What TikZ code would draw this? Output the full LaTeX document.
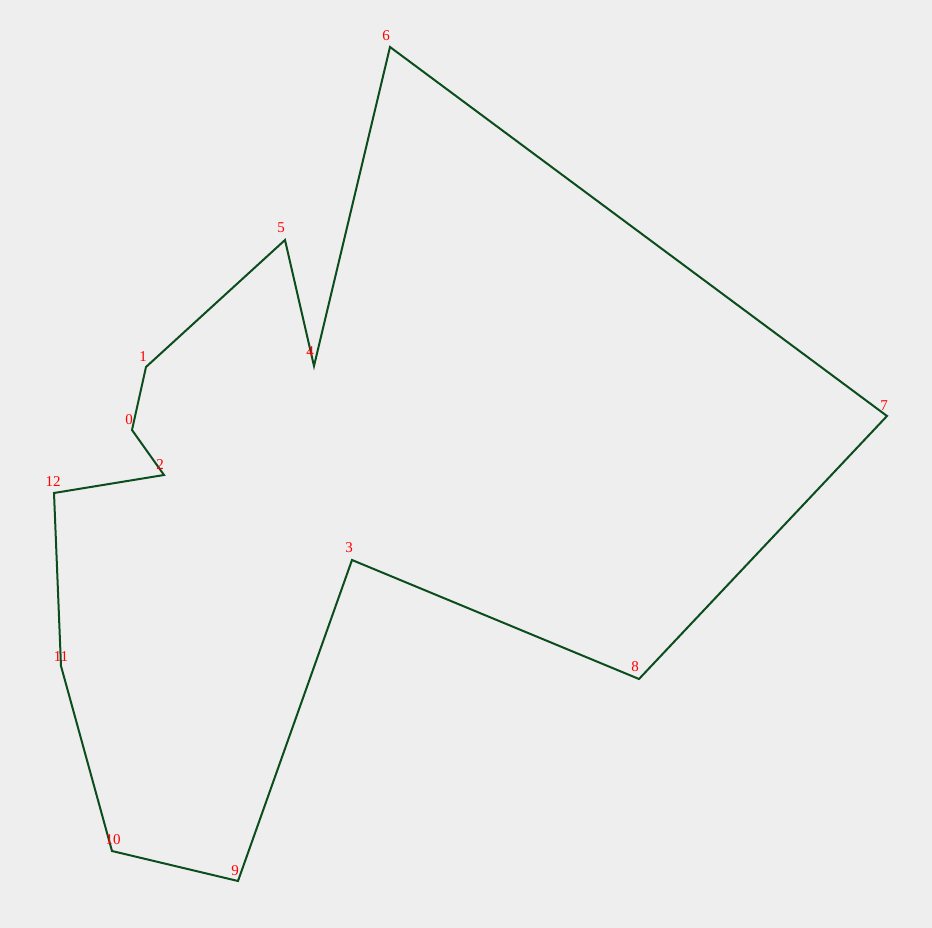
\documentclass[tikz,border=0pt]{standalone}
\usepackage{fontspec}
\setmainfont{Liberation Serif}
\definecolor{bg}{HTML}{EEEEEE}
\definecolor{edge}{HTML}{0B4D1C}
\definecolor{lbl}{HTML}{FF0000}
\begin{document}
\begin{tikzpicture}[x=1pt,y=-1pt,
  vtx/.style={inner sep=0pt,minimum size=0pt},
  lab/.style={text=lbl,font=\fontsize{15}{15}\selectfont,inner sep=0pt},
  poly/.style={draw=edge,line width=2pt,line join=miter}]
\fill[bg] (0,0) rectangle (932,928);
\useasboundingbox (0,0) rectangle (932,928);
\coordinate (v0) at (132,430);
\coordinate (v1) at (146,367);
\coordinate (v2) at (164,475);
\coordinate (v3) at (352,560);
\coordinate (v4) at (314,366);
\coordinate (v5) at (285,240);
\coordinate (v6) at (390,47);
\coordinate (v7) at (887,416);
\coordinate (v8) at (639,679);
\coordinate (v9) at (238,881);
\coordinate (v10) at (112,851);
\coordinate (v11) at (61,666);
\coordinate (v12) at (54,493);
\draw[poly] (v0) -- (v1) -- (v5) -- (v4) -- (v6) -- (v7) -- (v8) -- (v3) -- (v9) -- (v10) -- (v11) -- (v12) -- (v2) -- cycle;
\foreach \i/\dx/\dy in {0/-3/-10,1/-3/-10,2/-4/-10,3/-3/-12,4/-4/-14,5/-4/-12,6/-4/-11,7/-3/-10,8/-4/-12,9/-3/-10,10/1/-11,11/0/-9,12/-1/-11}{
  \node[lab] (l\i) at ([shift={(\dx,\dy)}]v\i) {\i};
}
\end{tikzpicture}
\end{document}
